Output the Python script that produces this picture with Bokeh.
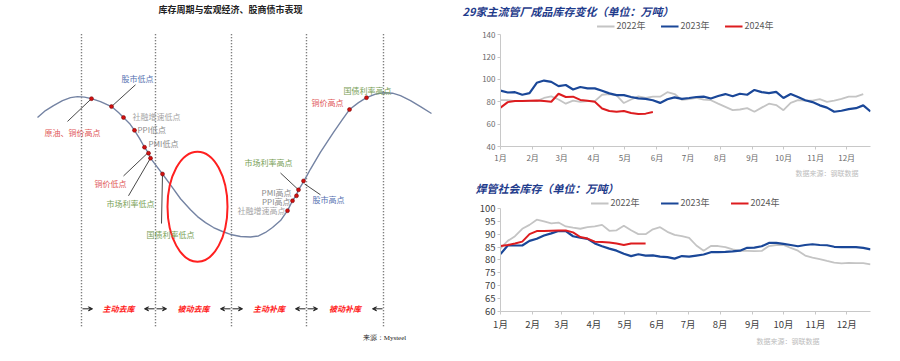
from bokeh.plotting import figure
from bokeh.layouts import row, column
from bokeh.models import (Range1d, FixedTicker, Legend, LegendItem, Title, Arrow,
                          VeeHead, ColumnDataSource)
from bokeh.core.properties import value
from bokeh.embed import file_html
from bokeh.resources import INLINE

CJK = "Noto Sans CJK SC"

# ------------------------------------------------------------------ data: right charts (weekly)
month_labels = ["1月", "2月", "3月", "4月", "5月", "6月", "7月", "8月", "9月", "10月", "11月", "12月"]
month_start_day = [0, 31, 59, 90, 120, 151, 181, 212, 243, 273, 304, 334]
series_names = ["2022年", "2023年", "2024年"]

# 29家主流管厂成品库存（万吨）
mill_2022 = [81.4, 81.4, 80.6, 80.6, 80.6, 80.6, 83.4, 84.9, 82.0, 78.3,
             81.1, 80.0, 80.6, 80.6, 86.3, 86.9, 85.7, 78.9, 82.0, 84.9,
             83.4, 84.6, 84.6, 88.6, 86.9, 81.7, 82.3, 83.4, 82.0, 81.4,
             78.3, 75.4, 72.5, 73.1, 74.3, 71.1, 74.8, 78.3, 77.1, 72.5,
             79.1, 81.4, 81.1, 81.1, 82.3, 80.0, 81.1, 82.6, 84.6, 84.6,
             86.9]
mill_2023 = [90.0, 88.3, 88.6, 86.3, 87.8, 97.0, 99.0, 97.8, 94.0, 95.0,
             91.0, 93.2, 92.0, 92.0, 89.8, 87.5, 86.0, 86.0, 84.3, 83.0,
             82.6, 81.4, 79.0, 82.3, 84.0, 82.6, 83.4, 84.3, 84.6, 82.9,
             85.2, 86.9, 84.9, 87.2, 86.3, 90.6, 88.6, 87.8, 88.9, 83.4,
             86.9, 84.3, 81.4, 79.7, 76.8, 74.8, 71.1, 72.0, 73.4, 74.3,
             76.8, 71.4]
mill_2024 = [74.8, 79.7, 80.6, 80.6, 80.9, 81.1, 80.6, 80.0, 87.2, 84.3,
             84.6, 81.7, 80.9, 80.0, 74.0, 71.7, 71.1, 71.7, 69.9, 69.1,
             69.4, 70.8]
mill_ticks = [40, 60, 80, 100, 120, 140]

# 焊管社会库存（万吨）
social_2022 = [84.5, 87.4, 89.2, 92.1, 93.6, 95.6, 95.0, 94.2, 94.5, 93.0,
               92.5, 92.1, 92.7, 93.0, 93.6, 91.3, 91.5, 93.3, 91.5, 90.0,
               90.0, 91.9, 92.7, 90.9, 89.7, 89.2, 88.6, 85.6, 83.6, 85.4,
               85.4, 85.0, 84.1, 83.5, 83.5, 83.4, 83.5, 85.4, 85.8, 85.8,
               84.7, 83.6, 81.7, 80.9, 80.3, 79.6, 79.0, 78.7, 78.9, 78.8,
               78.8, 78.3]
social_2023 = [82.3, 85.6, 85.6, 85.6, 87.4, 88.2, 89.5, 90.3, 91.2, 91.2,
               89.2, 88.6, 88.2, 86.4, 85.3, 84.4, 83.6, 82.4, 81.5, 82.2,
               81.7, 81.8, 81.3, 81.1, 80.5, 81.5, 81.3, 81.7, 82.1, 83.0,
               83.0, 83.1, 83.3, 83.6, 84.7, 84.8, 85.3, 86.6, 86.6, 86.2,
               85.8, 85.3, 85.8, 86.1, 85.8, 85.7, 85.1, 85.0, 85.0, 85.0,
               84.7, 84.1]
social_2024 = [85.4, 85.8, 86.4, 87.1, 90.0, 91.2, 91.2, 91.3, 91.4, 91.4,
               90.7, 88.9, 88.3, 87.1, 87.0, 86.8, 86.4, 85.8, 86.4, 86.4,
               86.4]
social_ticks = [60, 65, 70, 75, 80, 85, 90, 95, 100]

# ------------------------------------------------------------------ data: left diagram
diagram_title = "库存周期与宏观经济、股商债市表现"
curve_x = [37, 45, 53, 62, 70, 77, 84, 91, 100, 111, 118, 123, 129, 134, 139, 144, 148, 150,
           156, 162, 170, 180, 190, 197, 205, 213, 222, 230, 240, 250, 258, 265, 272, 280,
           287, 292, 296, 298, 303, 310, 320, 333, 342, 349, 358, 366, 375, 383, 392, 400,
           410, 420, 431]
curve_y = [122, 115, 110, 105, 102, 101, 101.5, 103, 106, 111, 117, 122, 128, 135, 143, 152, 158, 163,
           171, 179, 190, 204, 215, 222, 228, 233, 237, 240, 242, 242.5, 241.5, 238, 233, 226,
           216, 206, 200, 195, 187, 174, 157, 137, 124, 114, 107, 102, 98.5, 97, 97.5, 100,
           105, 111, 118]
phase_x = [81, 155, 231, 306, 383]
phase_top, phase_bottom = 38, 333
phase_names = ["主动去库", "被动去库", "主动补库", "被动补库"]
phase_label_y = 315

point_x = [91, 111, 123, 134, 144, 148, 150, 162, 287, 292, 296, 298, 303, 349, 366]
point_y = [103, 111, 122, 135, 152, 158, 163, 179, 216, 206, 201, 195, 186, 114, 102]

leader_x0 = [135, 67, 123, 128, 161, 280, 320]
leader_y0 = [89, 126, 181, 201, 229, 178, 200]
leader_x1 = [111, 91, 147, 150, 162, 298, 304]
leader_y1 = [111, 103, 158, 163, 179, 195, 189]

BLUE_T, RED_T, GREEN_T, GRAY_T, DGRAY_T = "#5470B0", "#E05555", "#78A055", "#A5A5A5", "#8A8A8A"
note_text = ["股市低点", "原油、铜价高点", "社融增速低点", "PPI低点", "PMI低点", "铜价低点",
             "市场利率低点", "国债利率低点", "市场利率高点", "PMI高点", "PPI高点", "社融增速高点",
             "股市高点", "铜价高点", "国债利率高点"]
note_x = [137, 72, 132, 137, 148, 110, 130, 170, 268, 291, 290, 285, 328, 327, 367]
note_y = [83, 137, 121, 134, 148, 189, 209, 240, 167, 198, 207, 216, 205, 107, 95]
note_align = ["center", "center", "left", "left", "left", "center", "center", "center",
              "center", "right", "right", "right", "center", "center", "center"]
note_color = [BLUE_T, RED_T, GRAY_T, DGRAY_T, DGRAY_T, RED_T, GREEN_T, GREEN_T, GREEN_T,
              DGRAY_T, DGRAY_T, GRAY_T, BLUE_T, RED_T, GREEN_T]
ellipse_cx, ellipse_cy, ellipse_w, ellipse_h = 197, 212, 60, 111
source_left = "来源：Mysteel"

# ------------------------------------------------------------------ left diagram figure
left = figure(width=442, height=345, x_range=Range1d(0, 442), y_range=Range1d(352, 4),
              output_backend="svg", toolbar_location=None, x_axis_location=None,
              y_axis_location=None, min_border=0, outline_line_color=None)
left.grid.visible = False

left.segment(x0=phase_x, y0=[phase_top] * len(phase_x), x1=phase_x, y1=[phase_bottom] * len(phase_x),
             line_color="#555555", line_width=1.4, line_dash="1 2")
left.line(curve_x, curve_y, line_color="#7483A3", line_width=1.4)
left.ellipse(x=[ellipse_cx], y=[ellipse_cy], width=[ellipse_w], height=[ellipse_h],
             fill_color=None, line_color="#FF2020", line_width=2)
left.segment(x0=leader_x0, y0=leader_y0, x1=leader_x1, y1=leader_y1,
             line_color="#333333", line_width=0.9)
left.scatter(point_x, point_y, size=4, fill_color="#D01010", line_color="#700000", line_width=0.5)

note_src = ColumnDataSource(dict(x=note_x, y=note_y, text=note_text, align=note_align, color=note_color))
left.text(x="x", y="y", text="text", text_align="align", text_color="color", source=note_src,
          text_baseline="middle", text_font=value(CJK), text_font_size=value("8px"))

left.text(x=[230], y=[13], text=[diagram_title], text_align="center", text_baseline="middle",
          text_font=value(CJK), text_font_size=value("9px"), text_font_style="bold", text_color="#222222")

phase_mid = [(a + b) / 2 for a, b in zip(phase_x[:-1], phase_x[1:])]
left.text(x=phase_mid, y=[phase_label_y] * len(phase_mid), text=phase_names, text_align="center",
          text_baseline="middle", text_font=value(CJK), text_font_size=value("8px"),
          text_font_style="bold italic", text_color="#FF2020")

arr_x0, arr_x1 = [], []
for a, b in zip(phase_x[:-1], phase_x[1:]):
    arr_x0 += [a + 1, b - 1]
    arr_x1 += [a + 11, b - 11]
arr_src = ColumnDataSource(dict(x0=arr_x0, x1=arr_x1, y=[phase_label_y] * len(arr_x0)))
left.add_layout(Arrow(x_start="x0", y_start="y", x_end="x1", y_end="y", source=arr_src,
                      line_color="#222222", line_width=1,
                      end=VeeHead(size=4, line_color="#222222", line_width=1, fill_color="#222222")))

left.text(x=[384], y=[344], text=[source_left], text_align="center", text_baseline="middle",
          text_font=value("Liberation Serif"), text_font_size=value("7px"), text_color="#222222")


# ------------------------------------------------------------------ right charts
def make_chart(title, s22, s23, s24, yr, ytop, yticks, height, mb_left, mb_right, mb_top, mb_bottom,
               tick_size, tick_color, title_offset, source_offset, legend_spacing):
    p = figure(width=442, height=height, x_range=Range1d(0, 357), y_range=Range1d(yr[0], ytop),
               output_backend="svg", toolbar_location=None, min_border_left=mb_left,
               min_border_right=mb_right, min_border_top=mb_top, min_border_bottom=mb_bottom,
               outline_line_color=None)
    p.grid.visible = False
    colors = ["#C4C4C4", "#1A4798", "#DD1C1F"]
    widths = [1.8, 2.2, 2.0]
    rends = []
    for s, c, w in zip([s22, s23, s24], colors, widths):
        xs = [7 * i for i in range(len(s))]
        rends.append(p.line(xs, s, line_color=c, line_width=w))

    for ax in (p.xaxis[0], p.yaxis[0]):
        ax.axis_line_color = "#C8C8C8"
        ax.major_tick_line_color = "#C8C8C8"
        ax.major_tick_out = 3
        ax.major_tick_in = 0
        ax.minor_tick_line_color = None
        ax.major_label_text_font = CJK
        ax.major_label_text_font_size = tick_size
        ax.major_label_text_color = tick_color
        ax.major_label_standoff = 2
    p.yaxis[0].ticker = FixedTicker(ticks=yticks)
    p.yaxis[0].bounds = (yr[0], yr[1])
    p.xaxis[0].ticker = FixedTicker(ticks=month_start_day)
    p.xaxis[0].major_label_overrides = dict(zip(month_start_day, month_labels))

    legend = Legend(items=[LegendItem(label=n, renderers=[r]) for n, r in zip(series_names, rends)],
                    orientation="horizontal", location="top_center", border_line_color=None,
                    background_fill_alpha=0, label_text_font=CJK, label_text_font_size="9px",
                    label_text_color="#595959", glyph_width=18, glyph_height=10,
                    label_height=10, label_standoff=2, spacing=legend_spacing, padding=0, margin=1)
    p.add_layout(legend)

    p.title.text = title
    p.title.text_font = CJK
    p.title.text_font_size = "11px"
    p.title.text_font_style = "bold italic"
    p.title.text_color = "#1F3C8C"
    p.title.offset = title_offset
    p.title.standoff = 0

    p.add_layout(Title(text="数据来源：钢联数据", align="right", text_font=CJK, text_font_size="7px",
                       text_font_style="normal", text_color="#BDBDBD", offset=source_offset,
                       standoff=0), "below")
    return p


top = make_chart("29家主流管厂成品库存变化（单位：万吨）", mill_2022, mill_2023, mill_2024,
                 (40, 140), 154.5, mill_ticks, 177, 58, 14, 16, 27, "8px", "#6A6A6A", -38, 12, 15)
bottom = make_chart("焊管社会库存（单位：万吨）", social_2022, social_2023, social_2024,
                    (60, 100), 105, social_ticks, 168, 56, 2, 16, 27, "9.5px", "#404040", -25, 51, 21)

layout = row(left, column(top, bottom))
open("out.html", "w").write(file_html(layout, INLINE))
